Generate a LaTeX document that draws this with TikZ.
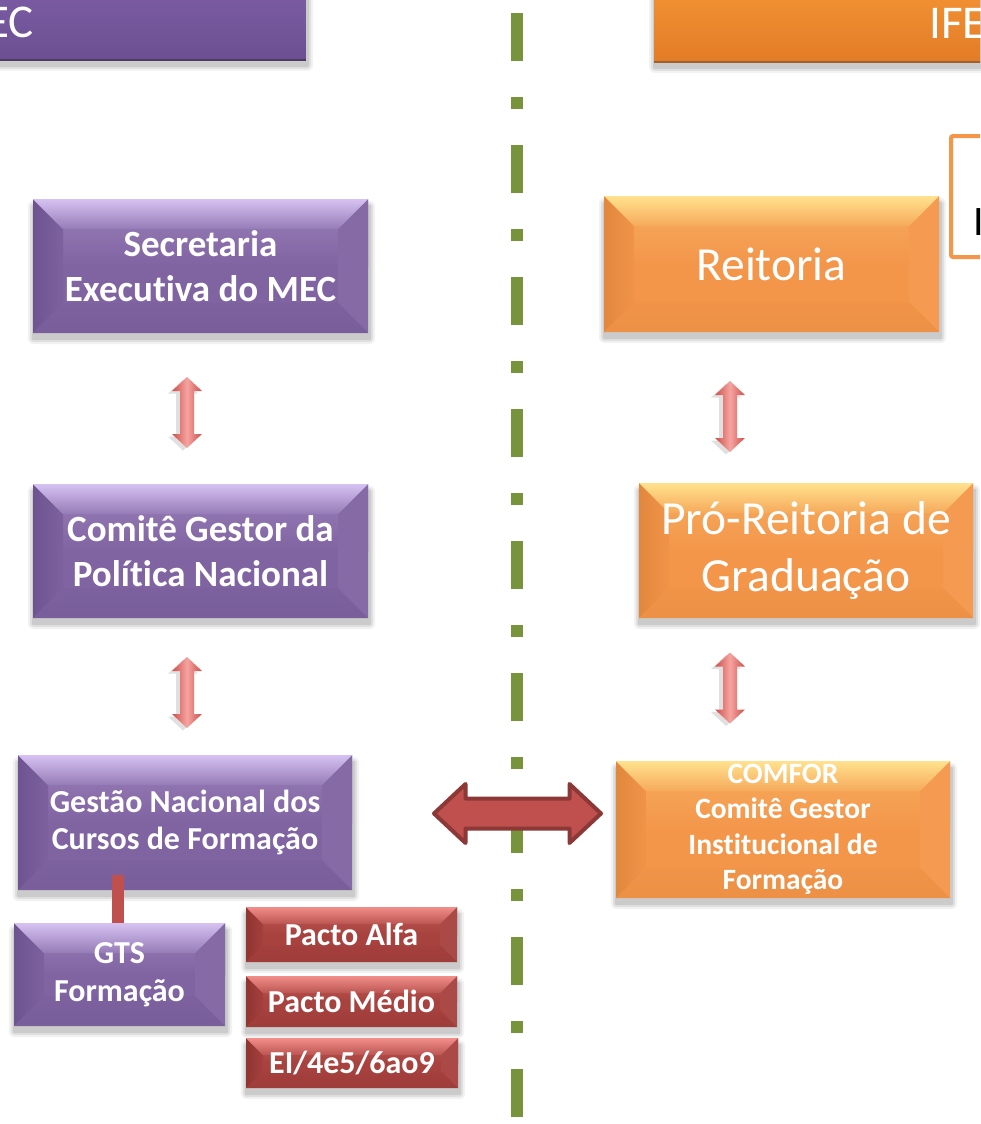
\documentclass[tikz,border=0pt]{standalone}
\usepackage{fontspec}
\setmainfont[RawFeature={-liga;-clig;-dlig;-rlig}]{Carlito}
\usetikzlibrary{calc,backgrounds}
\definecolor{purB}{HTML}{8064A2}
\definecolor{purL}{HTML}{D6C2F2}
\definecolor{purD}{HTML}{5C4380}
\definecolor{oraB}{HTML}{F3964A}
\definecolor{oraL}{HTML}{FFE28E}
\definecolor{oraD}{HTML}{D07A32}
\definecolor{redB}{HTML}{A8423F}
\definecolor{redL}{HTML}{F28E8A}
\definecolor{redD}{HTML}{782826}
\definecolor{arrE}{HTML}{CC4F4C}
\definecolor{arrC}{HTML}{F6A4A0}
\definecolor{bigF}{HTML}{C0504D}
\definecolor{bigS}{HTML}{8C3836}
\definecolor{lineG}{HTML}{77933C}
\definecolor{hdrOT}{HTML}{F99A3A}
\definecolor{hdrOB}{HTML}{E27C26}
\definecolor{hdrPT}{HTML}{8262AC}
\definecolor{hdrPB}{HTML}{6C4F92}
\newcommand\bevelpaint[4]{%
  \def\bvs{#4}%
  \path (path picture bounding box.north west) coordinate (pNW)
        (path picture bounding box.north east) coordinate (pNE)
        (path picture bounding box.south west) coordinate (pSW)
        (path picture bounding box.south east) coordinate (pSE);
  \fill[#1] (pNW) rectangle (pSE);
  \shade[top color=#1!70!#2, bottom color=#1] (pNW) rectangle (path picture bounding box.east);
  \shade[left color=#3!50!#1, right color=#1!92!#3]
    (pNW) -- ([shift={(\bvs pt,-\bvs pt)}]pNW) -- ([shift={(\bvs pt,\bvs pt)}]pSW) -- (pSW) -- cycle;
  \fill[#1!96!white]
    (pNE) -- ([shift={(-\bvs pt,-\bvs pt)}]pNE) -- ([shift={(-\bvs pt,\bvs pt)}]pSE) -- (pSE) -- cycle;
  \shade[top color=#1!92!#3, bottom color=#1!80!#3]
    (pSW) -- ([shift={(\bvs pt,\bvs pt)}]pSW) -- ([shift={(-\bvs pt,\bvs pt)}]pSE) -- (pSE) -- cycle;
  \shade[top color=#2, bottom color=#1!75!#2]
    (pNW) -- (pNE) -- ([shift={(-\bvs pt,-\bvs pt)}]pNE) -- ([shift={(\bvs pt,-\bvs pt)}]pNW) -- cycle;
}
\newcommand\boxshadow[1]{%
  \foreach \e/\o in {6/0.05,4/0.07,2/0.09}{%
    \fill[black,opacity=\o,rounded corners=\e*1pt]
      ([shift={(1pt-\e*1pt,-5pt-\e*1pt)}]#1.south west) rectangle
      ([shift={(1pt+\e*1pt,-8pt+\e*1pt)}]#1.north east);
  }%
}
\tikzset{
  bevelbox/.style n args={4}{inner sep=0pt, fill=#1, text=white, align=center,
    path picture={\bevelpaint{#1}{#2}{#3}{#4}}},
  purbox/.style={bevelbox={purB}{purL}{purD}{30}},
  orabox/.style={bevelbox={oraB}{oraL}{oraD}{30}},
  redbox/.style={bevelbox={redB}{redL}{redD}{17}},
  fbig/.style={font=\bfseries\fontsize{37}{45}\selectfont},
  fmid/.style={font=\bfseries\fontsize{32}{37}\selectfont},
  fgts/.style={font=\bfseries\fontsize{32}{38}\selectfont},
  fcom/.style={font=\bfseries\fontsize{29.5}{35.5}\selectfont},
  freg/.style={font=\fontsize{47.5}{57}\selectfont},
  vdarrow/.pic={
    \fill[black,opacity=0.12] (-4,-33) -- (11,-19) -- (3,-19) -- (3,24) -- (11,24) -- (-4,38) -- (-19,24) -- (-11,24) -- (-11,-19) -- (-19,-19) -- cycle;
    \shade[left color=arrE, right color=arrE, middle color=arrC]
      (0,-35.5) -- (15,-21.5) -- (7,-21.5) -- (7,21.5) -- (15,21.5) -- (0,35.5)
      -- (-15,21.5) -- (-7,21.5) -- (-7,-21.5) -- (-15,-21.5) -- cycle;
  },
  hdarrow/.pic={
    \draw[line width=4pt, line join=round, draw=bigS, fill=bigF]
      (-83.5,0) -- (-52,-29.5) -- (-52,-15) -- (52,-15) -- (52,-29.5) -- (83.5,0)
      -- (52,29.5) -- (52,15) -- (-52,15) -- (-52,29.5) -- cycle;
  }
}
\begin{document}
\begin{tikzpicture}[x=1pt,y=-1pt]
\useasboundingbox (0,0) rectangle (980,1124);
\begin{scope}[on background layer]
  \fill[white] (0,0) rectangle (980,1124);
\end{scope}
\clip (0,0) rectangle (980,1124);

% headers
\node[inner sep=0pt, minimum width=360, minimum height=100, anchor=south east,
  top color=hdrPT, bottom color=hdrPB] (mech) at (306,60) {};
\draw[purB!60!black, line width=1.5pt] (mech.south west) -- (mech.south east);
\node[anchor=base east, inner sep=0pt, text=white, font=\fontsize{47}{57}\selectfont] (mect) at (34,38) {EC};
\node[inner sep=0pt, minimum width=360, minimum height=100, anchor=south west,
  top color=hdrOT, bottom color=hdrOB] (ifeh) at (654,62) {};
\draw[oraB!65!black, line width=1.5pt] (ifeh.south west) -- (ifeh.south east);
\node[anchor=base west, inner sep=0pt, text=white, font=\fontsize{47}{57}\selectfont] (ifet) at (929,39) {IFE};

% side box at right
\node[draw=oraB, line width=4pt, fill=white, rounded corners=2pt, inner sep=0pt,
  minimum width=80, minimum height=121, anchor=north west] (ibox) at (949,134) {};
\node[anchor=base west, inner sep=0pt, font=\fontsize{42}{50}\selectfont] (iboxt) at (973,235) {I};

% left column
\node[purbox, fbig, minimum width=335, minimum height=134] (sec) at (200.5,266) {Secretaria\\Executiva do MEC};
\node[purbox, fbig, minimum width=335, minimum height=134] (com) at (200.5,551) {Comitê Gestor da\\Política Nacional};
\node[purbox, fmid, minimum width=334, minimum height=135] (gest) at (185,822.5) {Gestão Nacional dos\\Cursos de Formação};
\node[purbox, fgts, minimum width=211, minimum height=103] (gts) at (119.5,974.5) {GTS\\Formação};
\node[redbox, fmid, minimum width=211, minimum height=55] (alfa) at (351.5,934.5) {Pacto Alfa};
\node[redbox, fmid, minimum width=211, minimum height=51] (medio) at (351.5,1001.5) {Pacto Médio};
\node[redbox, fmid, minimum width=212, minimum height=50] (ei) at (352,1063) {EI/4e5/6ao9};

% right column
\node[orabox, freg, minimum width=335, minimum height=136] (reit) at (771.5,264) {Reitoria};
\node[orabox, freg, minimum width=334, minimum height=135] (pro) at (806,550.5) {Pró-Reitoria de\\Graduação};
\node[orabox, fcom, minimum width=334, minimum height=137] (comfor) at (783,829.5) {COMFOR\\Comitê Gestor\\Institucional de\\Formação};

% shadows
\begin{scope}[on background layer]
  \boxshadow{mech}
  \boxshadow{ifeh}
  \boxshadow{sec}
  \boxshadow{com}
  \boxshadow{gest}
  \boxshadow{gts}
  \boxshadow{alfa}
  \boxshadow{medio}
  \boxshadow{ei}
  \boxshadow{reit}
  \boxshadow{pro}
  \boxshadow{comfor}
\end{scope}

% connector gest - gts
\draw[line width=12pt, color=bigF] (gts.north) ++(-1.5,0) -- ($(gts.north)+(-1.5,-48)$);

% divider line
\draw[lineG, line width=12pt, dash pattern=on 48pt off 36pt on 12pt off 36pt] (517,13) -- (517,1117);

% block arrows
\pic at ($(sec.south)!0.5!(com.north)+(-13.5,4)$) {vdarrow};
\pic at ($(com.south)!0.5!(gest.north)+(-5.75,6)$) {vdarrow};
\pic at ($(reit.south)!0.5!(pro.north)+(-58.75,9)$) {vdarrow};
\pic at ($(pro.south)!0.5!(comfor.north)+(-64.5,-1.5)$) {vdarrow};
\pic at ($(gest.east)!0.5!(comfor.west)+(33.5,-12.5)$) {hdarrow};
\end{tikzpicture}
\end{document}
